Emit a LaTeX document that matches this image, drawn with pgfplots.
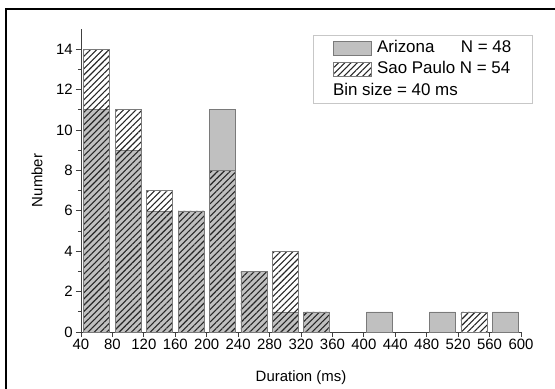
\documentclass[border=0pt]{standalone}
\usepackage{fontspec}
\setmainfont{Liberation Sans}
\usepackage{pgfplots}
\pgfplotsset{compat=1.18}
\usetikzlibrary{patterns.meta}

\definecolor{azgray}{HTML}{C0C0C0}
\definecolor{edgegray}{HTML}{7A7A7A}

\begin{document}
\begin{tikzpicture}
\path[use as bounding box] (-81bp,-57bp) rectangle (474bp,332bp);
\draw[line width=2.5bp, black] (-75bp,-60bp) -- (-75bp,323bp) -- (480bp,323bp);
\begin{axis}[
  at={(0,0)}, anchor=south west,
  scale only axis, width=440bp, height=303bp,
  xmin=40, xmax=600, ymin=0, ymax=15,
  axis lines=left, axis line style={-, draw=black!75, line width=0.8pt},
  xtick={40,80,...,600}, ytick={0,2,...,14}, minor ytick={1,3,...,13},
  tick align=outside, major tick length=5bp, minor tick length=3bp,
  tick style={black!75, line width=0.8pt},
  ybar, bar width=33, bar shift=0pt,
  tick label style={font=\fontsize{15}{17}\selectfont},
  xticklabel style={inner sep=1bp, yshift=-1bp},
  yticklabel style={inner sep=1bp, xshift=-2bp},
  /pgf/number format/assume math mode=true,
  xlabel={Duration (ms)}, ylabel={Number},
  every axis x label/.style={at={(axis description cs:0.5,-0.152)}, anchor=center, font=\fontsize{15}{17}\selectfont},
  every axis y label/.style={at={(axis description cs:-0.1,0.5)}, anchor=center, rotate=90, font=\fontsize{15}{17}\selectfont},
  legend cell align=left,
  legend style={at={(rel axis cs:0.527,0.98)}, anchor=north west, draw=black!22, line width=1.2pt,
    inner xsep=20bp, inner ysep=4bp, row sep=4.5bp, font=\fontsize{17}{19}\selectfont,
    nodes={inner ysep=1bp, inner xsep=1bp, text height=11.5bp, text depth=3.5bp}},
  mylegend/.style={legend image code/.code={\draw[##1, line width=0.6pt] (0bp,-7bp) rectangle (38bp,7bp); \path (42bp,0bp);}},
]
\addplot[fill=azgray, draw=edgegray, line width=0.6pt, mylegend] coordinates {
  (60,11) (100,9) (140,6) (180,6) (220,11) (260,3) (300,1) (340,1) (420,1) (500,1) (580,1)};
\addlegendentry{\makebox[4.95em][l]{Arizona}N = 48}
\addplot[draw=edgegray, line width=0.6pt, pattern={Lines[angle=45, distance=4.4bp, line width=1.1bp]}, pattern color=black!85, mylegend] coordinates {
  (60,14) (100,11) (140,7) (180,6) (220,8) (260,3) (300,4) (340,1) (540,1)};
\addlegendentry{Sao Paulo N = 54}
\addlegendimage{empty legend}
\addlegendentry{\hspace*{-44bp}Bin size = 40 ms}
\end{axis}
\end{tikzpicture}
\end{document}
